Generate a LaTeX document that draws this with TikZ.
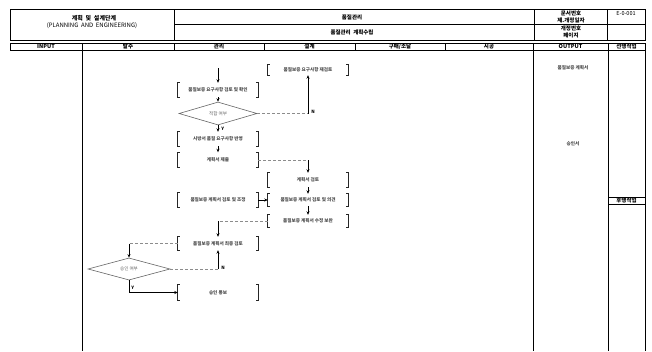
\documentclass[tikz,border=0pt]{standalone}
\usepackage{fontspec}
\setmainfont{Noto Sans CJK KR}
\usetikzlibrary{shapes.geometric,arrows.meta}
\begin{document}
\begin{tikzpicture}[x=1pt,y=-1pt,
 frame/.style={line width=0.9pt,black},
 hdr/.style={font=\fontsize{5.5}{6}\selectfont\bfseries, inner sep=0pt},
 bx/.style={rectangle, minimum width=80pt, minimum height=14pt, inner sep=0pt, font=\fontsize{4.6}{5}\selectfont\bfseries, text=black!70},
 dia/.style={diamond, draw=black!60, line width=0.6pt, inner sep=0pt, font=\fontsize{4.6}{5}\selectfont, text=black!60},
 brk/.style={line width=0.8pt, black!85},
 flow/.style={line width=0.8pt, -{Stealth[length=3.5pt,width=3pt]}},
 faint/.style={line width=0.6pt, black!45, densely dashed},
 lbl/.style={font=\fontsize{4.5}{5}\selectfont\bfseries, inner sep=0pt}
]
\useasboundingbox (0,0) rectangle (652,351);
\fill[white] (0,0) rectangle (652,351);

% ---------- title block ----------
\draw[frame] (10,9) rectangle (645,40);
\draw[frame] (174,9) -- (174,40) (534,9) -- (534,40) (607,9) -- (607,40) (174,24) -- (645,24);
\node[hdr,font=\fontsize{6}{7}\selectfont\bfseries] (t1) at (94,18) {계획\ \ 및\ \ 설계단계};
\node[hdr,font=\fontsize{6}{7}\selectfont] (t2) at (92,26) {(PLANNING\ \ AND\ \ ENGINEERING)};
\node[hdr] (t3) at (352,17) {품질관리};
\node[hdr] (t4) at (352,32) {품질관리\ \ 계획수립};
\node[hdr] (t5) at (571,13.5) {문서번호};
\node[hdr] (t6) at (571,20) {제.개정일자};
\node[hdr] (t7) at (571,28) {개정번호};
\node[hdr] (t8) at (571,35) {페이지};
\node[hdr,font=\fontsize{5.5}{6}\selectfont] (t9) at (626,14) {E-0-001};

% ---------- column header ----------
\draw[frame] (10,43) rectangle (645,50);
\foreach \x in {82,174,264,355,445,533,608} \draw[frame] (\x,43) -- (\x,50);
\node[hdr] (c1) at (46,46.5) {INPUT};
\node[hdr] (c2) at (128,46.5) {발주};
\node[hdr] (c3) at (219,46.5) {관리};
\node[hdr] (c4) at (309.5,46.5) {설계};
\node[hdr] (c5) at (400,46.5) {구매/조달};
\node[hdr] (c6) at (489,46.5) {시공};
\node[hdr] (c7) at (570.5,46.5) {OUTPUT};
\node[hdr] (c8) at (626.5,46.5) {선행작업};

% ---------- body lines ----------
\foreach \x in {82,533,608,645} \draw[frame] (\x,50) -- (\x,351);
\draw[frame] (608,197) rectangle (645,204);
\node[hdr] (c9) at (626.5,200.5) {후행작업};

% ---------- output texts ----------
\node[bx,minimum width=0pt,minimum height=0pt] (o1) at (573,68) {품질보증 계획서};
\node[bx,minimum width=0pt,minimum height=0pt] (o2) at (573,144) {승인서};

% ---------- flowchart nodes ----------
\coordinate (s0) at (218,68);
\node[bx] (l1) at (218,90) {품질보증 요구사항 검토 및 확인};
\node[dia,minimum width=78pt,minimum height=23pt] (d1) at (218,113.5) {적합 여부};
\node[bx] (l2) at (218,139) {시방서 품질 요구사항 반영};
\node[bx,minimum height=15pt] (l3) at (218,160) {계획서 제출};
\node[bx,minimum height=10pt] (r1) at (308,70) {품질보증 요구사항 재검토};
\node[bx] (r2) at (308,180) {계획서 검토};
\node[bx,minimum height=12pt] (r3) at (308,200) {품질보증 계획서 검토 및 의견};
\node[bx,minimum height=15pt] (l4) at (218,200) {품질보증 계획서 검토 및 조정};
\node[bx,minimum height=12pt] (r4) at (308,221) {품질보증 계획서 수정 보완};
\node[bx,minimum height=13pt] (l5) at (218,243.5) {품질보증 계획서 최종 검토};
\node[dia,minimum width=82pt,minimum height=22pt] (d2) at (129,269) {승인 여부};
\node[bx,minimum height=15pt] (l6) at (218,292.5) {승인 통보};

% brackets for boxes
\foreach \n in {l1,l2,l3,l4,l5,l6,r1,r2,r3,r4} {
  \draw[brk] ([xshift=2pt]\n.north west) -- (\n.north west) -- (\n.south west) -- ([xshift=2pt]\n.south west);
  \draw[brk] ([xshift=-2pt]\n.north east) -- (\n.north east) -- (\n.south east) -- ([xshift=-2pt]\n.south east);
}

% ---------- connectors ----------
\draw[flow] (s0) -- (l1.north);
\draw[flow] (l1.south) -- (d1.north);
\draw[flow] (d1.south) -- node[lbl,right=3pt] (ly1) {Y} (l2.north);
\draw[faint] (d1.east) -- (308,113.5);
\draw[flow] (308,113.5) -- node[lbl,pos=0.05,right=3pt] (ln1) {N} (r1.south);
\draw[flow] (l2.south) -- (l3.north);
\draw[faint] (l3.east) -- (308,160);
\draw[flow] (308,160) -- (r2.north);
\draw[flow] (r2.south) -- (r3.north);
\draw[flow] (l4.east) -- (r3.west);
\draw[flow] (r3.south) -- (r4.north);
\draw[faint] (r4.west) -- (218,221);
\draw[flow] (218,221) -- (l5.north);
\draw[faint] (l5.west) -- (129,243.5);
\draw[flow] (129,243.5) -- (d2.north);
\draw[faint] (d2.east) -- (218,269);
\draw[flow] (218,269) -- node[lbl,pos=0.05,right=3pt] (ln2) {N} (l5.south);
\draw[flow] (d2.south) |- node[lbl,pos=0.3,right=2pt] (ly2) {Y} (l6.west);
\end{tikzpicture}
\end{document}
